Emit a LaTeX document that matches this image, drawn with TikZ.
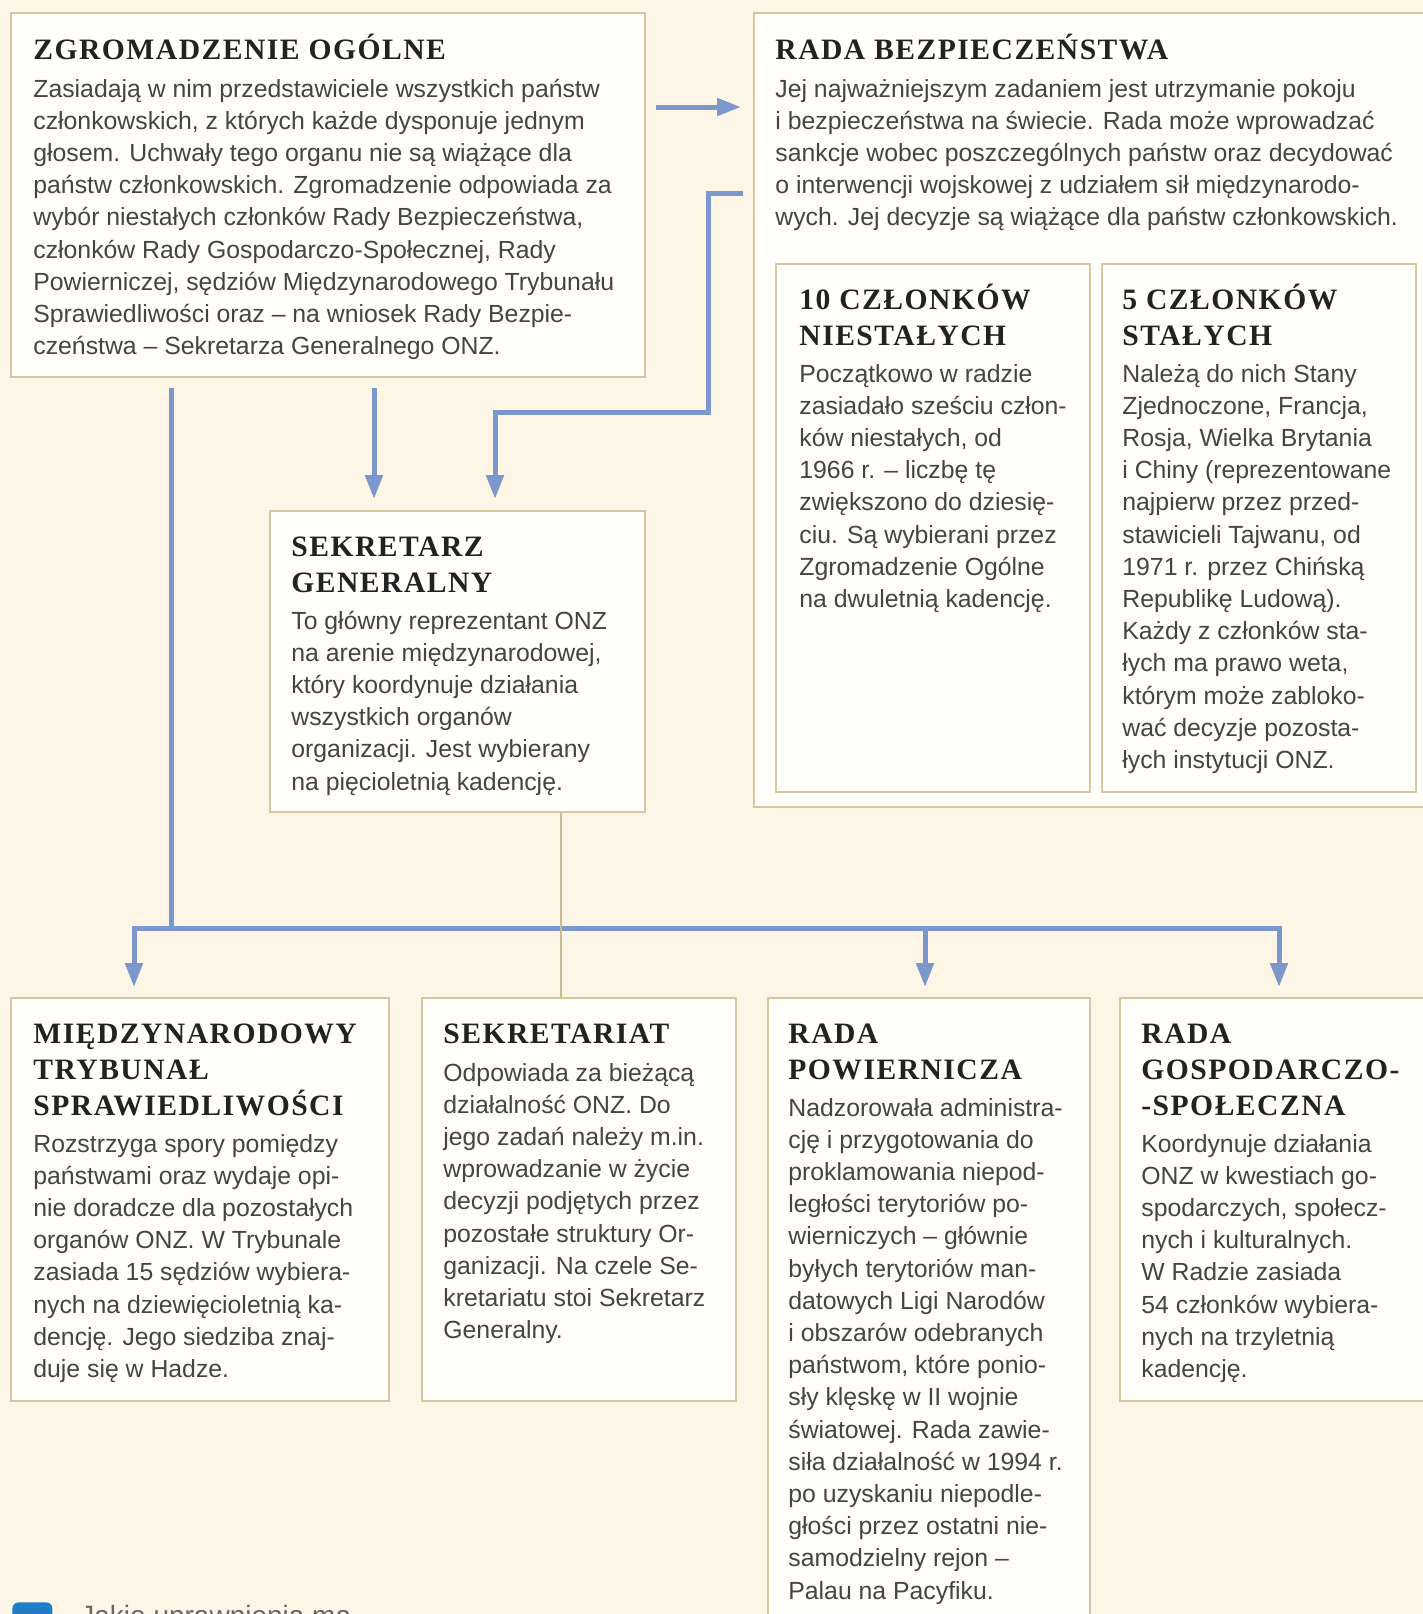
\documentclass[tikz,border=0pt]{standalone}
\usepackage{fontspec}
\setmainfont{Liberation Sans}
\newfontfamily\headfont[LetterSpace=5,UprightFont={* Bold}]{Liberation Serif}
\usetikzlibrary{arrows.meta,calc}
\definecolor{bgc}{HTML}{FDF5E6}
\definecolor{boxc}{HTML}{FFFEFB}
\definecolor{bordc}{HTML}{D6C7A1}
\definecolor{arrc}{HTML}{7B97CB}
\definecolor{tanc}{HTML}{C9BB8D}
\definecolor{bodyc}{HTML}{444444}
\definecolor{headc}{HTML}{222222}
\definecolor{qblue}{HTML}{1F7FC6}
\definecolor{qgray}{HTML}{666666}
\newcommand\headtxt[1]{{\headfont\fontsize{14.8}{18}\selectfont\color{headc}\begin{tabular}[t]{@{}l@{}}#1\end{tabular}}}
\newcommand\bodytxt[1]{{\fontsize{12.4}{16.1}\selectfont\color{bodyc}\begin{tabular}[t]{@{}l@{}}#1\end{tabular}}}
\tikzset{
  box/.style={draw=bordc, fill=boxc, line width=1pt, inner sep=0pt, anchor=north west},
  txt/.style={anchor=base west, inner sep=0pt},
  conn/.style={draw=arrc, line width=2.5pt},
  tip/.style={conn, -{Triangle[length=12pt,width=8.5pt]}},
  tips/.style={conn, {Triangle[length=12pt,width=8.5pt]}-{Triangle[length=12pt,width=8.5pt]}},
  tanline/.style={draw=tanc, line width=1.3pt}
}
\begin{document}
\begin{tikzpicture}[x=0.5pt,y=-0.5pt]
\useasboundingbox (0,0) rectangle (1423,1614);
\fill[bgc] (0,0) rectangle (1423,1614);
\clip (0,0) rectangle (1423,1614);

% boxes
\node[box, minimum width=317pt, minimum height=182pt] (zo) at (10,12) {};
\node[box, minimum width=360pt, minimum height=397pt] (rb) at (753,12) {};
\node[box, minimum width=157pt, minimum height=264pt] (n10) at (775,263) {};
\node[box, minimum width=157pt, minimum height=264pt] (s5) at (1101,263) {};
\node[box, minimum width=187.5pt, minimum height=150.5pt] (sg) at (269,510) {};
\node[box, minimum width=189pt, minimum height=201.5pt] (mts) at (10,997) {};
\node[box, minimum width=157pt, minimum height=201.5pt] (sek) at (421,997) {};
\node[box, minimum width=161pt, minimum height=350pt] (rp) at (767,997) {};
\node[box, minimum width=170pt, minimum height=201.5pt] (rgs) at (1119,997) {};

% texts
\node[txt] (zoh) at (33,59) {\headtxt{ZGROMADZENIE OGÓLNE}};
\node[txt] (zob) at (33,97) {\bodytxt{Zasiadają w nim przedstawiciele wszystkich państw\\
członkowskich, z których każde dysponuje jednym\\
głosem. Uchwały tego organu nie są wiążące dla\\
państw członkowskich. Zgromadzenie odpowiada za\\
wybór niestałych członków Rady Bezpieczeństwa,\\
członków Rady Gospodarczo-Społecznej, Rady\\
Powierniczej, sędziów Międzynarodowego Trybunału\\
Sprawiedliwości oraz – na wniosek Rady Bezpie-\\
czeństwa – Sekretarza Generalnego ONZ.}};

\node[txt] (rbh) at (775,59) {\headtxt{RADA BEZPIECZEŃSTWA}};
\node[txt] (rbb) at (775,97) {\bodytxt{Jej najważniejszym zadaniem jest utrzymanie pokoju\\
i bezpieczeństwa na świecie. Rada może wprowadzać\\
sankcje wobec poszczególnych państw oraz decydować\\
o interwencji wojskowej z udziałem sił międzynarodo-\\
wych. Jej decyzje są wiążące dla państw członkowskich.}};

\node[txt] (n10h) at (799,309) {\headtxt{10 CZŁONKÓW\\NIESTAŁYCH}};
\node[txt] (n10b) at (799,382) {\bodytxt{Początkowo w radzie\\
zasiadało sześciu człon-\\
ków niestałych, od\\
1966 r. – liczbę tę\\
zwiększono do dziesię-\\
ciu. Są wybierani przez\\
Zgromadzenie Ogólne\\
na dwuletnią kadencję.}};

\node[txt] (s5h) at (1122,309) {\headtxt{5 CZŁONKÓW\\STAŁYCH}};
\node[txt] (s5b) at (1122,382) {\bodytxt{Należą do nich Stany\\
Zjednoczone, Francja,\\
Rosja, Wielka Brytania\\
i Chiny (reprezentowane\\
najpierw przez przed-\\
stawicieli Tajwanu, od\\
1971 r. przez Chińską\\
Republikę Ludową).\\
Każdy z członków sta-\\
łych ma prawo weta,\\
którym może zabloko-\\
wać decyzje pozosta-\\
łych instytucji ONZ.}};

\node[txt] (sgh) at (291,556) {\headtxt{SEKRETARZ\\GENERALNY}};
\node[txt] (sgb) at (291,629) {\bodytxt{To główny reprezentant ONZ\\
na arenie międzynarodowej,\\
który koordynuje działania\\
wszystkich organów\\
organizacji. Jest wybierany\\
na pięcioletnią kadencję.}};

\node[txt] (mtsh) at (33,1043) {\headtxt{MIĘDZYNARODOWY\\TRYBUNAŁ\\SPRAWIEDLIWOŚCI}};
\node[txt] (mtsb) at (33,1152) {\bodytxt{Rozstrzyga spory pomiędzy\\
państwami oraz wydaje opi-\\
nie doradcze dla pozostałych\\
organów ONZ. W Trybunale\\
zasiada 15 sędziów wybiera-\\
nych na dziewięcioletnią ka-\\
dencję. Jego siedziba znaj-\\
duje się w Hadze.}};

\node[txt] (sekh) at (443,1043) {\headtxt{SEKRETARIAT}};
\node[txt] (sekb) at (443,1081) {\bodytxt{Odpowiada za bieżącą\\
działalność ONZ. Do\\
jego zadań należy m.in.\\
wprowadzanie w życie\\
decyzji podjętych przez\\
pozostałe struktury Or-\\
ganizacji. Na czele Se-\\
kretariatu stoi Sekretarz\\
Generalny.}};

\node[txt] (rph) at (788,1043) {\headtxt{RADA\\POWIERNICZA}};
\node[txt] (rpb) at (788,1116) {\bodytxt{Nadzorowała administra-\\
cję i przygotowania do\\
proklamowania niepod-\\
ległości terytoriów po-\\
wierniczych – głównie\\
byłych terytoriów man-\\
datowych Ligi Narodów\\
i obszarów odebranych\\
państwom, które ponio-\\
sły klęskę w II wojnie\\
światowej. Rada zawie-\\
siła działalność w 1994 r.\\
po uzyskaniu niepodle-\\
głości przez ostatni nie-\\
samodzielny rejon –\\
Palau na Pacyfiku.}};

\node[txt] (rgsh) at (1141,1043) {\headtxt{RADA\\GOSPODARCZO-\\-SPOŁECZNA}};
\node[txt] (rgsb) at (1141,1152) {\bodytxt{Koordynuje działania\\
ONZ w kwestiach go-\\
spodarczych, społecz-\\
nych i kulturalnych.\\
W Radzie zasiada\\
54 członków wybiera-\\
nych na trzyletnią\\
kadencję.}};

% connectors
\draw[tip] ($(zo.north east)+(10,95)$) -- ($(rb.north west)+(-12,95)$);
\draw[tip] ($(rb.north west)+(-10,181)$) -- ++(-35,0) |- ($(sg.north west)+(226,-98)$) -- ($(sg.north west)+(226,-11)$);
\draw[tip] ($(zo.south west)+(364,10)$) -- ($(sg.north west)+(105,-11)$);
\draw[conn] ($(zo.south west)+(161,10)$) -- ($(mts.north west)+(161,-69)$);
\draw[tips, line join=miter] ($(mts.north west)+(124,-10)$) |- ($(rgs.north west)+(160,-69)$) -- ($(rgs.north west)+(160,-10)$);
\draw[tip] ($(rp.north west)+(158,-69)$) -- ($(rp.north west)+(158,-10)$);
\draw[tanline] (sg.south west) ++(292,0) coordinate (tanA) (sek.north west) ++(140,0) coordinate (tanB);
\draw[tanline] (tanA) -- (tanB);

% bottom question
\node[fill=qblue, rounded corners=3pt, minimum size=20pt, inner sep=0pt, anchor=north west] (qicon) at (12,1602) {};
\node[txt, text=qgray, font=\fontsize{14}{17}\selectfont] (qtext) at (80,1625) {Jakie uprawnienia ma};
\end{tikzpicture}
\end{document}
